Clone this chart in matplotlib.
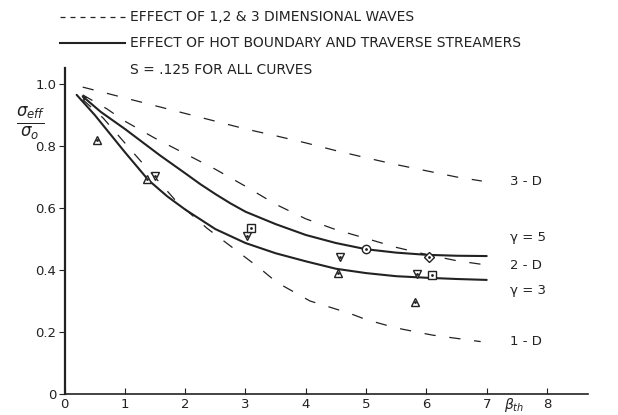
"""
Effective conductivity ratio vs beta_th, redrawn from the reference figure.
"""

import matplotlib
matplotlib.use("Agg")
import matplotlib.pyplot as plt
from matplotlib.lines import Line2D

# dashed curves: effect of 1, 2 & 3 dimensional waves
x_3d = [0.3, 1.0, 1.5, 2.0, 2.5, 3.0, 3.5, 4.0, 4.5, 5.0, 5.5, 6.0, 6.5, 6.92]
y_3d = [0.99, 0.955, 0.93, 0.905, 0.88, 0.855, 0.833, 0.81, 0.785, 0.762, 0.74, 0.72, 0.70, 0.687]

x_2d = [0.3, 0.7, 1.0, 1.5, 2.0, 2.5, 3.0, 3.5, 4.0, 4.5, 5.0, 5.5, 6.0, 6.5, 7.0]
y_2d = [0.965, 0.92, 0.88, 0.825, 0.775, 0.725, 0.67, 0.612, 0.565, 0.53, 0.502, 0.473, 0.45, 0.43, 0.416]

x_1d = [0.3, 0.64, 1.2, 1.86, 2.36, 2.8, 3.24, 3.52, 4.07, 4.73, 5.0, 5.5, 6.1, 6.9]
y_1d = [0.95, 0.89, 0.765, 0.62, 0.535, 0.47, 0.405, 0.36, 0.30, 0.26, 0.24, 0.213, 0.19, 0.169]

# solid curves: hot boundary and traverse streamers
x_g5 = [0.3, 0.6, 1.0, 1.58, 2.0, 2.25, 2.5, 2.75, 3.0, 3.5, 4.0, 4.5, 5.0, 5.5, 6.0, 6.5, 7.0]
y_g5 = [0.96, 0.91, 0.855, 0.77, 0.712, 0.677, 0.645, 0.615, 0.588, 0.548, 0.513, 0.487, 0.467, 0.456, 0.449, 0.446, 0.445]

x_g3 = [0.2, 0.5, 1.0, 1.39, 1.7, 2.0, 2.5, 3.0, 3.5, 4.0, 4.5, 5.0, 5.5, 6.0, 6.5, 7.0]
y_g3 = [0.965, 0.90, 0.78, 0.69, 0.638, 0.595, 0.532, 0.487, 0.454, 0.428, 0.404, 0.39, 0.38, 0.375, 0.371, 0.368]

# experimental points
tri_up_x = [0.54, 1.37, 4.54, 5.81]
tri_up_y = [0.82, 0.694, 0.39, 0.297]
tri_dn_x = [1.50, 3.03, 4.57, 5.84]
tri_dn_y = [0.703, 0.51, 0.443, 0.387]
sq_x = [3.09, 6.09]
sq_y = [0.535, 0.384]
circ_x = [5.0]
circ_y = [0.468]
diam_x = [6.04]
diam_y = [0.442]

curve_labels = ["3 - D", "γ = 5", "2 - D", "γ = 3", "1 - D"]
label_y = [0.687, 0.505, 0.415, 0.335, 0.168]

xticks = [0, 1, 2, 3, 4, 5, 6, 7, 8]
yticks = [0, 0.2, 0.4, 0.6, 0.8, 1.0]
ytick_labels = ["0", "0.2", "0.4", "0.6", "0.8", "1.0"]

W, H = 618, 415
ink = "#222222"
plt.rcParams["font.family"] = ["DejaVu Sans"]

fig = plt.figure(figsize=(W / 100, H / 100), dpi=100)
ax = fig.add_axes([64.6 / W, 1 - 394 / H, (588 - 64.6) / W, (394 - 68.5) / H])
ax.set_xlim(0, 8.68)
ax.set_ylim(0, 1.05)

dash = (0, (9, 11))
for xs, ys in [(x_3d, y_3d), (x_2d, y_2d), (x_1d, y_1d)]:
    ax.plot(xs, ys, color=ink, lw=0.9, linestyle=dash)
for xs, ys in [(x_g5, y_g5), (x_g3, y_g3)]:
    ax.plot(xs, ys, color=ink, lw=1.5, solid_capstyle="round")

# little arrow head at the start of the gamma = 5 curve
ax.annotate("", xy=(x_g5[0] - 0.05, y_g5[0] + 0.008), xytext=(x_g5[1], y_g5[1]),
            arrowprops=dict(arrowstyle="-|>", color=ink, lw=0, mutation_scale=9))

mk = dict(linestyle="none", mfc="white", mec=ink, mew=1.0, ms=6, zorder=4)
ax.plot(tri_up_x, tri_up_y, marker="^", **mk)
ax.plot(tri_dn_x, tri_dn_y, marker="v", **mk)
ax.plot(sq_x, sq_y, marker="s", **dict(mk, ms=5.5))
ax.plot(circ_x, circ_y, marker="o", **mk)
ax.plot(diam_x, diam_y, marker="D", **dict(mk, ms=5))
for xs, ys in [(tri_up_x, tri_up_y), (tri_dn_x, tri_dn_y), (sq_x, sq_y),
               (circ_x, circ_y), (diam_x, diam_y)]:
    ax.plot(xs, ys, linestyle="none", marker=".", ms=2, color=ink, zorder=5)

for lab, yv in zip(curve_labels, label_y):
    ax.text(7.38, yv, lab, fontsize=9.5, color=ink, va="center", ha="left")

# axes styling
for side in ["top", "right"]:
    ax.spines[side].set_visible(False)
ax.spines["left"].set_linewidth(1.6)
ax.spines["bottom"].set_linewidth(1.2)
ax.spines["left"].set_color(ink)
ax.spines["bottom"].set_color(ink)
ax.set_xticks(xticks)
ax.set_xticklabels([str(t) for t in xticks])
ax.set_yticks(yticks)
ax.set_yticklabels(ytick_labels)
ax.tick_params(axis="x", direction="in", length=4, width=0.8, labelsize=9.5,
               colors=ink, pad=3)
ax.tick_params(axis="y", direction="out", length=4, width=0.8, labelsize=9.5,
               colors=ink, pad=2)

ax.text(7.45, -0.035, r"$\beta_{th}$", fontsize=10, color=ink, ha="center", va="center")
fig.text(31 / W, 1 - 123 / H, r"$\frac{\sigma_{eff}}{\sigma_o}$", fontsize=17,
         color=ink, ha="center", va="center")

# legend block at the top
fig.add_artist(Line2D([60 / W, 125 / W], [1 - 17 / H, 1 - 17 / H], color=ink, lw=0.9,
                      linestyle=(0, (4, 4))))
fig.add_artist(Line2D([60 / W, 125 / W], [1 - 43 / H, 1 - 43 / H], color=ink, lw=1.5))
fig.text(130 / W, 1 - 17 / H, "EFFECT OF 1,2 & 3 DIMENSIONAL WAVES", fontsize=10,
         color=ink, va="center")
fig.text(130 / W, 1 - 43 / H, "EFFECT OF HOT BOUNDARY AND TRAVERSE STREAMERS",
         fontsize=10, color=ink, va="center")
fig.text(130 / W, 1 - 70 / H, "S = .125 FOR ALL CURVES", fontsize=10, color=ink,
         va="center")

fig.savefig("out.png", dpi=100)
